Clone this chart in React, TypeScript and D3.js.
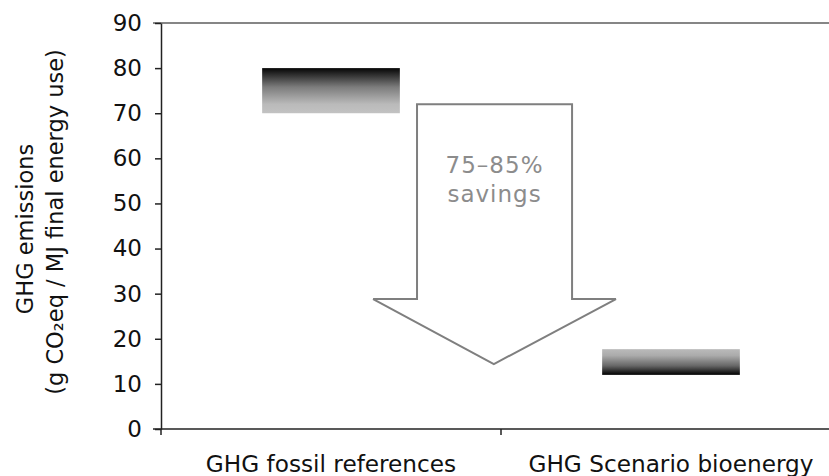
import React, { useRef, useEffect } from "react";
import * as d3 from "d3";

// categories and their emission ranges (g CO2eq / MJ)
const categories = ["GHG fossil references", "GHG Scenario bioenergy"];
const rangeLow = [70, 12];
const rangeHigh = [80, 17.7];
const yTicks = [0, 10, 20, 30, 40, 50, 60, 70, 80, 90];

// arrow outline, x in category units (0..2), y in data units
const arrowX = [0.753, 1.209, 1.209, 1.338, 0.979, 0.624, 0.753];
const arrowY = [72, 72, 28.8, 28.8, 14.4, 28.8, 28.8];
const arrowText = ["75–85%", "savings"];
const yTitle = ["GHG emissions", "(g CO₂eq / MJ final energy use)"];

const App: React.FC = () => {
  const ref = useRef<SVGSVGElement | null>(null);

  useEffect(() => {
    if (!ref.current) return;
    const svg = d3.select(ref.current);
    svg.selectAll("*").remove();

    const width = 829;
    const height = 476;
    const left = 161;
    const right = 841;
    const top = 23;
    const bottom = 429;
    const font = "Verdana, 'DejaVu Sans', sans-serif";

    svg.attr("width", width).attr("height", height);

    const y = d3.scaleLinear().domain([0, 90]).range([bottom, top]);
    const x = d3.scaleBand().domain(categories).range([left, right]);
    const xu = d3.scaleLinear().domain([0, 2]).range([left, right]);

    // gradients
    const defs = svg.append("defs");
    const g1 = defs
      .append("linearGradient")
      .attr("id", "gradFossil")
      .attr("x1", 0)
      .attr("y1", 0)
      .attr("x2", 0)
      .attr("y2", 1);
    [
      [0, "#050505"],
      [0.42, "#7c7c7c"],
      [0.8, "#bababa"],
      [1, "#c2c2c2"],
    ].forEach(([o, c]) => g1.append("stop").attr("offset", o).attr("stop-color", c));
    const g2 = defs
      .append("linearGradient")
      .attr("id", "gradBio")
      .attr("x1", 0)
      .attr("y1", 0)
      .attr("x2", 0)
      .attr("y2", 1);
    [
      [0, "#bababa"],
      [0.25, "#ababab"],
      [0.65, "#666666"],
      [1, "#000000"],
    ].forEach(([o, c]) => g2.append("stop").attr("offset", o).attr("stop-color", c));

    // top gridline at 90
    svg
      .append("line")
      .attr("x1", left - 8)
      .attr("x2", right)
      .attr("y1", y(90))
      .attr("y2", y(90))
      .attr("stroke", "#868686")
      .attr("stroke-width", 2);

    // y axis
    const yAxis = svg
      .append("g")
      .attr("transform", `translate(${left},0)`)
      .call(d3.axisLeft(y).tickValues(yTicks).tickSize(6).tickSizeOuter(0).tickPadding(13));
    yAxis.select(".domain").attr("stroke", "#222").attr("stroke-width", 1.5);
    yAxis.selectAll(".tick line").attr("stroke", "#222").attr("stroke-width", 1.5);
    yAxis
      .selectAll(".tick text")
      .style("font-family", font)
      .style("font-size", "23px")
      .attr("fill", "#111");

    // x axis
    svg
      .append("line")
      .attr("x1", left - 8)
      .attr("x2", right)
      .attr("y1", y(0))
      .attr("y2", y(0))
      .attr("stroke", "#222")
      .attr("stroke-width", 1.5);
    const xTicks = [0, 1, 2];
    svg
      .selectAll(".xtick")
      .data(xTicks)
      .enter()
      .append("line")
      .attr("x1", (d) => xu(d))
      .attr("x2", (d) => xu(d))
      .attr("y1", y(0))
      .attr("y2", y(0) + 6)
      .attr("stroke", "#222")
      .attr("stroke-width", 1.5);

    svg
      .selectAll(".xlabel")
      .data(categories)
      .enter()
      .append("text")
      .attr("x", (d) => x(d)! + x.bandwidth() / 2)
      .attr("y", 472)
      .attr("text-anchor", "middle")
      .style("font-family", font)
      .style("font-size", "23.2px")
      .attr("fill", "#111")
      .text((d) => d);

    // range bars
    const barW = x.bandwidth() * 0.405;
    svg
      .selectAll(".bar")
      .data(categories)
      .enter()
      .append("rect")
      .attr("x", (d) => x(d)! + (x.bandwidth() - barW) / 2)
      .attr("y", (d, i) => y(rangeHigh[i]))
      .attr("width", barW)
      .attr("height", (d, i) => y(rangeLow[i]) - y(rangeHigh[i]))
      .attr("fill", (d, i) => (i === 0 ? "url(#gradFossil)" : "url(#gradBio)"));

    // arrow
    const line = d3
      .line<number>()
      .x((d, i) => xu(arrowX[i]))
      .y((d, i) => y(arrowY[i]));
    svg
      .append("path")
      .attr("d", line(arrowX) + "Z")
      .attr("fill", "#fff")
      .attr("stroke", "#7f7f7f")
      .attr("stroke-width", 2);

    const cx = xu((arrowX[0] + arrowX[1]) / 2);
    svg
      .selectAll(".atext")
      .data(arrowText)
      .enter()
      .append("text")
      .attr("x", cx)
      .attr("y", (d, i) => 173 + i * 29)
      .attr("text-anchor", "middle")
      .style("font-family", font)
      .style("font-size", "23px")
      .style("letter-spacing", "1px")
      .attr("fill", "#8c8c8c")
      .text((d) => d);

    // y title
    svg
      .selectAll(".ytitle")
      .data(yTitle)
      .enter()
      .append("text")
      .attr("transform", (d, i) => `translate(${33 + i * 29.5},${i === 0 ? 229 : 222}) rotate(-90)`)
      .attr("text-anchor", "middle")
      .style("font-family", font)
      .style("font-size", "22.5px")
      .attr("fill", "#111")
      .text((d) => d);
  }, []);

  return (
    <svg
      ref={ref}
      style={{ position: "absolute", left: 0, top: 0, display: "block" }}
    ></svg>
  );
};

export default App;
